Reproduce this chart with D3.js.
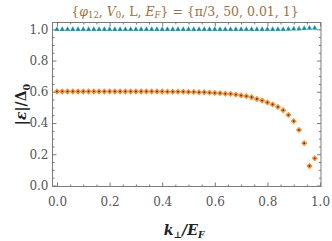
<!DOCTYPE html>
<html>
<head>
<meta charset="utf-8">
<script src="https://cdn.jsdelivr.net/npm/d3@7"></script>
<style>
  body { margin: 0; background: #fff; }
  text { font-family: "DejaVu Serif", "Liberation Serif", serif; }
</style>
</head>
<body>
<script>
// data
var kValues = [0.00, 0.02, 0.04, 0.06, 0.08, 0.10, 0.12, 0.14, 0.16, 0.18,
               0.20, 0.22, 0.24, 0.26, 0.28, 0.30, 0.32, 0.34, 0.36, 0.38,
               0.40, 0.42, 0.44, 0.46, 0.48, 0.50, 0.52, 0.54, 0.56, 0.58,
               0.60, 0.62, 0.64, 0.66, 0.68, 0.70, 0.72, 0.74, 0.76, 0.78,
               0.80, 0.82, 0.84, 0.86, 0.88, 0.90, 0.92, 0.94, 0.96, 0.98];

var upperValues = [1, 1, 1, 1, 1, 1, 1, 1, 1, 1,
                   1, 1, 1, 1, 1, 1, 1, 1, 1, 1,
                   1, 1, 1, 1, 1, 1, 1, 1, 1, 1,
                   1, 1, 1, 1, 1, 1, 1, 1, 1, 1,
                   1, 1, 1, 1, 1.001, 1.002, 1.003, 1.005, 1.007, 1.008];

var lowerValues = [0.602, 0.602, 0.602, 0.602, 0.602, 0.602, 0.602, 0.602, 0.602, 0.602,
                   0.602, 0.602, 0.602, 0.602, 0.602, 0.602, 0.602, 0.602, 0.602, 0.602,
                   0.602, 0.601, 0.601, 0.601, 0.601, 0.599, 0.599, 0.597, 0.597, 0.595,
                   0.593, 0.591, 0.588, 0.587, 0.582, 0.577, 0.572, 0.565, 0.554, 0.544,
                   0.532, 0.519, 0.503, 0.482, 0.452, 0.412, 0.356, 0.271, 0.125, 0.174];

var xTicks = [0, 0.2, 0.4, 0.6, 0.8, 1.0];
var yTicks = [0, 0.2, 0.4, 0.6, 0.8, 1.0];
var minorTicks = [0.05, 0.1, 0.15, 0.25, 0.3, 0.35, 0.45, 0.5, 0.55, 0.65, 0.7, 0.75, 0.85, 0.9, 0.95];

var width = 332, height = 241;
var plotLeft = 52.5, plotRight = 321, plotTop = 22.5, plotBottom = 186.5;

var svg = d3.select("body").append("svg")
  .attr("width", width)
  .attr("height", height);

var x = d3.scaleLinear().domain([-0.0171, 1.0038]).range([plotLeft, plotRight]);
var y = d3.scaleLinear().domain([-0.0064, 1.0436]).range([plotBottom, plotTop]);

var frameColor = "#7a7a7a";

// ticks on all four sides, pointing inwards
function tickAxis(g, axis) {
  g.call(axis);
  g.select(".domain").remove();
  g.selectAll(".tick line").attr("stroke", frameColor);
}

var fmt = d3.format(".1f");

svg.append("g").attr("transform", "translate(0," + plotBottom + ")")
  .call(tickAxis, d3.axisBottom(x).tickValues(xTicks).tickSize(-4).tickPadding(11).tickFormat(fmt))
  .selectAll("text").attr("font-size", 12).attr("fill", "#555");
svg.append("g").attr("transform", "translate(0," + plotBottom + ")")
  .call(tickAxis, d3.axisBottom(x).tickValues(minorTicks).tickSize(-2).tickFormat(""));
svg.append("g").attr("transform", "translate(0," + plotTop + ")")
  .call(tickAxis, d3.axisTop(x).tickValues(xTicks).tickSize(-4).tickFormat(""));
svg.append("g").attr("transform", "translate(0," + plotTop + ")")
  .call(tickAxis, d3.axisTop(x).tickValues(minorTicks).tickSize(-2).tickFormat(""));

svg.append("g").attr("transform", "translate(" + plotLeft + ",0)")
  .call(tickAxis, d3.axisLeft(y).tickValues(yTicks).tickSize(-4).tickPadding(4).tickFormat(fmt))
  .selectAll("text").attr("font-size", 12).attr("fill", "#555");
svg.append("g").attr("transform", "translate(" + plotLeft + ",0)")
  .call(tickAxis, d3.axisLeft(y).tickValues(minorTicks).tickSize(-2).tickFormat(""));
svg.append("g").attr("transform", "translate(" + plotRight + ",0)")
  .call(tickAxis, d3.axisRight(y).tickValues(yTicks).tickSize(-4).tickFormat(""));
svg.append("g").attr("transform", "translate(" + plotRight + ",0)")
  .call(tickAxis, d3.axisRight(y).tickValues(minorTicks).tickSize(-2).tickFormat(""));

// frame
svg.append("rect")
  .attr("x", plotLeft).attr("y", plotTop)
  .attr("width", plotRight - plotLeft).attr("height", plotBottom - plotTop)
  .attr("fill", "none").attr("stroke", frameColor).attr("stroke-width", 1);

// upper series: teal triangles
var tri = d3.symbol().type(d3.symbolTriangle).size(13);
svg.append("g").selectAll("path")
  .data(kValues)
  .enter().append("path")
  .attr("d", tri)
  .attr("transform", function(d, i) { return "translate(" + x(d) + "," + y(upperValues[i]) + ")"; })
  .attr("fill", "#1fa6b2");
svg.append("g").selectAll("circle")
  .data(kValues)
  .enter().append("circle")
  .attr("cx", function(d) { return x(d); })
  .attr("cy", function(d, i) { return y(upperValues[i]); })
  .attr("r", 0.7)
  .attr("fill", "#1b5f8c");

// lower series: orange diamonds with a dark centre
var dia = d3.symbol().type(d3.symbolSquare).size(20);
svg.append("g").selectAll("path")
  .data(kValues)
  .enter().append("path")
  .attr("d", dia)
  .attr("transform", function(d, i) { return "translate(" + x(d) + "," + y(lowerValues[i]) + ") rotate(45)"; })
  .attr("fill", "#ff8f1f");
svg.append("g").selectAll("circle")
  .data(kValues)
  .enter().append("circle")
  .attr("cx", function(d) { return x(d); })
  .attr("cy", function(d, i) { return y(lowerValues[i]); })
  .attr("r", 0.9)
  .attr("fill", "#2b2f9a");

// title
var title = svg.append("text")
  .attr("x", 185).attr("y", 16)
  .attr("text-anchor", "middle")
  .attr("font-size", 12.5)
  .attr("fill", "#a0703c");
title.append("tspan").text("{");
title.append("tspan").attr("font-style", "italic").text("φ");
title.append("tspan").attr("font-size", 8.5).attr("dy", 2).text("12");
title.append("tspan").attr("dy", -2).text(",  ");
title.append("tspan").attr("font-style", "italic").text("V");
title.append("tspan").attr("font-size", 8.5).attr("dy", 2).text("0");
title.append("tspan").attr("dy", -2).text(",  L,  ");
title.append("tspan").attr("font-style", "italic").text("E");
title.append("tspan").attr("font-size", 8.5).attr("font-style", "italic").attr("dy", 2).text("F");
title.append("tspan").attr("dy", -2).text("} = {π/3, 50, 0.01, 1}");

// y label
var yl = svg.append("text")
  .attr("transform", "translate(26," + ((plotTop + plotBottom) / 2) + ") rotate(-90)")
  .attr("text-anchor", "middle")
  .attr("font-size", 14)
  .attr("font-weight", "bold")
  .attr("fill", "#222");
yl.append("tspan").text("|");
yl.append("tspan").attr("font-style", "italic").text("ε");
yl.append("tspan").text("|/Δ");
yl.append("tspan").attr("font-size", 9.5).attr("dy", 3.5).text("0");

// x label
var xl = svg.append("text")
  .attr("x", 184).attr("y", 235)
  .attr("text-anchor", "middle")
  .attr("font-size", 14)
  .attr("font-weight", "bold")
  .attr("font-style", "italic")
  .attr("fill", "#222");
xl.append("tspan").text("k");
xl.append("tspan").attr("font-size", 9).attr("dy", 3).attr("font-style", "normal").text("⊥");
xl.append("tspan").attr("dy", -3).text("/E");
xl.append("tspan").attr("font-size", 9).attr("dy", 3).text("F");
</script>
</body>
</html>
